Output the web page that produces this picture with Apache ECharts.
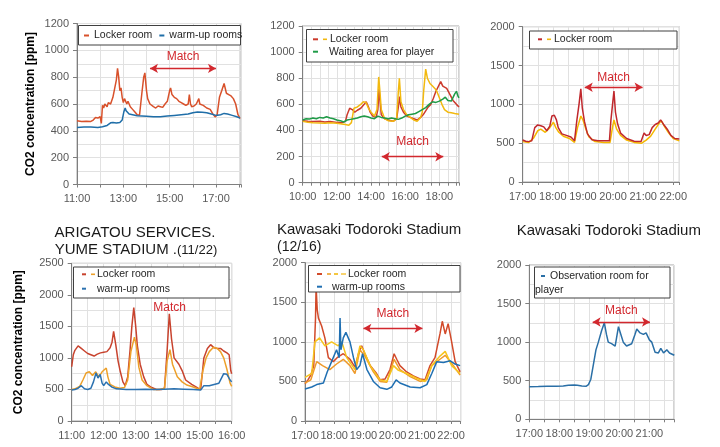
<!DOCTYPE html>
<html><head><meta charset="utf-8">
<script src="https://cdn.jsdelivr.net/npm/echarts/dist/echarts.min.js"></script>
<style>html,body{margin:0;padding:0;background:#fff}#c{width:720px;height:447px}</style>
</head><body><div id="c"></div>
<script>
// ---------- DATA (time in hours, CO2 in ppm) ----------
const p1Ticks = ['11:00','13:00','15:00','17:00'];
const p2Ticks = ['10:00','12:00','14:00','16:00','18:00'];
const p3Ticks = ['17:00','18:00','19:00','20:00','21:00','22:00'];
const p4Ticks = ['11:00','12:00','13:00','14:00','15:00','16:00'];
const p5Ticks = ['17:00','18:00','19:00','20:00','21:00','22:00'];
const p6Ticks = ['17:00','18:00','19:00','20:00','21:00'];

const p1Locker = [[11.0,475],[11.2,470],[11.4,472],[11.6,470],[11.7,480],[11.8,500],[11.9,495],[12.0,505],[12.05,455],[12.1,590],[12.15,570],[12.2,600],[12.3,580],[12.35,610],[12.45,600],[12.55,650],[12.62,640],[12.7,780],[12.75,865],[12.8,800],[12.85,700],[12.9,720],[12.95,650],[13.0,610],[13.05,640],[13.15,600],[13.2,620],[13.3,580],[13.4,560],[13.5,540],[13.6,520],[13.7,516],[13.75,600],[13.8,680],[13.88,800],[13.93,832],[14.0,700],[14.05,640],[14.15,600],[14.3,580],[14.4,570],[14.5,585],[14.6,580],[14.7,575],[14.8,600],[14.9,620],[15.0,700],[15.04,720],[15.1,670],[15.2,650],[15.3,640],[15.4,620],[15.5,610],[15.6,600],[15.7,590],[15.8,600],[15.85,670],[15.9,600],[15.95,580],[16.05,585],[16.15,600],[16.26,640],[16.3,600],[16.45,590],[16.6,570],[16.75,560],[16.85,530],[16.96,504],[17.05,520],[17.15,650],[17.25,700],[17.35,753],[17.45,680],[17.55,670],[17.65,660],[17.75,640],[17.85,600],[17.95,520],[18.04,492]];
const p1Warmup = [[11.0,425],[11.3,428],[11.6,428],[11.9,425],[12.1,430],[12.3,440],[12.45,460],[12.55,462],[12.7,458],[12.85,462],[12.95,480],[13.02,540],[13.08,570],[13.12,550],[13.18,545],[13.25,525],[13.4,520],[13.6,512],[13.8,510],[14.0,508],[14.3,505],[14.6,505],[14.9,510],[15.2,515],[15.5,520],[15.8,525],[16.0,535],[16.2,540],[16.4,538],[16.6,535],[16.8,525],[17.0,515],[17.2,520],[17.35,530],[17.5,525],[17.7,515],[17.9,505],[18.04,495]];

const p2LockerA = [[10.0,475],[10.3,470],[10.6,468],[11.0,470],[11.3,465],[11.6,468],[12.0,462],[12.3,460],[12.5,470],[12.6,520],[12.75,570],[12.9,560],[13.05,540],[13.2,555],[13.4,570],[13.6,600],[13.72,620],[13.85,580],[13.95,540],[14.1,510],[14.3,500],[14.4,560],[14.47,720],[14.52,640],[14.6,520],[14.8,490],[15.0,480],[15.3,470],[15.5,490],[15.62,600],[15.67,660],[15.75,580],[15.9,540],[16.1,510],[16.3,500],[16.5,490],[16.7,480],[16.9,500],[17.05,520],[17.2,550],[17.35,580],[17.5,600],[17.65,647],[17.8,700],[17.95,740],[18.08,774],[18.2,740],[18.3,730],[18.43,723],[18.6,680],[18.8,630],[19.0,600],[19.15,580]];
const p2LockerB = [[10.0,470],[10.3,462],[10.6,460],[11.0,458],[11.3,455],[11.6,460],[12.0,455],[12.3,450],[12.5,445],[12.7,440],[12.85,460],[13.0,570],[13.2,580],[13.4,600],[13.55,620],[13.7,615],[13.85,570],[14.0,540],[14.2,510],[14.35,560],[14.45,810],[14.52,700],[14.6,560],[14.8,490],[15.0,475],[15.3,470],[15.5,490],[15.6,700],[15.66,800],[15.75,620],[15.9,560],[16.1,520],[16.3,500],[16.5,480],[16.7,470],[16.9,500],[17.0,540],[17.08,700],[17.2,870],[17.3,800],[17.45,760],[17.6,740],[17.75,720],[17.85,700],[18.0,650],[18.15,600],[18.3,560],[18.5,540],[18.7,535],[18.9,530],[19.15,525]];
const p2Waiting = [[10.0,480],[10.2,490],[10.4,488],[10.6,495],[10.8,490],[11.0,500],[11.2,495],[11.4,505],[11.6,495],[11.8,490],[12.0,480],[12.2,475],[12.4,465],[12.6,480],[12.8,485],[13.0,490],[13.2,495],[13.4,505],[13.6,510],[13.8,505],[14.0,495],[14.2,490],[14.4,510],[14.6,500],[14.8,495],[15.0,490],[15.2,495],[15.4,490],[15.6,485],[15.8,495],[16.0,510],[16.2,520],[16.4,525],[16.6,530],[16.8,545],[17.0,560],[17.2,575],[17.4,600],[17.6,620],[17.8,615],[18.0,625],[18.2,640],[18.35,655],[18.5,630],[18.7,625],[18.9,680],[19.0,700],[19.1,660],[19.15,650]];

const p3LockerA = [[17.0,540],[17.1,525],[17.2,520],[17.3,530],[17.4,700],[17.5,735],[17.6,725],[17.7,710],[17.8,660],[17.9,720],[17.97,850],[18.05,860],[18.12,800],[18.18,700],[18.3,620],[18.45,600],[18.6,580],[18.72,530],[18.8,800],[18.87,1000],[18.93,1200],[18.98,950],[19.05,780],[19.15,620],[19.3,545],[19.5,530],[19.7,530],[19.88,530],[19.93,800],[20.0,1060],[20.03,1170],[20.08,900],[20.15,750],[20.25,630],[20.45,560],[20.7,525],[20.93,520],[21.03,630],[21.1,600],[21.2,610],[21.3,700],[21.4,740],[21.5,760],[21.58,800],[21.7,730],[21.8,680],[21.92,600],[22.05,560],[22.2,555]];
const p3LockerB = [[17.0,520],[17.2,510],[17.35,560],[17.5,660],[17.6,680],[17.75,640],[17.9,700],[18.02,770],[18.1,700],[18.2,640],[18.35,590],[18.55,560],[18.72,510],[18.82,700],[18.93,850],[19.0,800],[19.1,680],[19.2,580],[19.4,520],[19.7,510],[19.9,510],[19.98,700],[20.03,800],[20.12,680],[20.25,600],[20.45,540],[20.7,510],[20.95,500],[21.1,540],[21.25,590],[21.4,680],[21.5,740],[21.6,790],[21.7,720],[21.85,630],[22.0,560],[22.2,530]];

const p4LockerA = [[11.0,860],[11.05,1050],[11.1,1120],[11.2,1190],[11.3,1150],[11.4,1110],[11.5,1070],[11.6,1050],[11.7,1030],[11.8,1060],[11.9,1080],[12.0,1090],[12.1,1100],[12.2,1160],[12.26,1250],[12.31,1420],[12.38,1200],[12.45,950],[12.52,780],[12.6,620],[12.67,560],[12.75,700],[12.82,1100],[12.88,1500],[12.94,1800],[13.0,1500],[13.05,1200],[13.14,900],[13.25,700],[13.35,580],[13.5,530],[13.65,500],[13.8,500],[13.9,520],[13.98,1100],[14.05,1700],[14.12,1300],[14.2,1000],[14.35,900],[14.45,800],[14.56,650],[14.75,580],[14.95,520],[15.03,500],[15.13,1000],[15.24,1150],[15.34,1210],[15.45,1160],[15.55,1150],[15.65,1150],[15.75,1110],[15.85,1080],[15.92,1050],[15.97,800],[16.0,750]];
const p4LockerB = [[11.0,500],[11.1,510],[11.25,550],[11.35,650],[11.45,760],[11.55,780],[11.65,720],[11.75,780],[11.85,700],[11.95,780],[12.08,840],[12.13,700],[12.2,580],[12.35,540],[12.5,520],[12.65,530],[12.75,650],[12.85,1100],[12.96,1330],[13.02,1200],[13.1,850],[13.2,650],[13.35,560],[13.55,500],[13.75,500],[13.9,520],[13.98,950],[14.07,1130],[14.15,900],[14.3,700],[14.45,620],[14.6,570],[14.8,540],[15.0,500],[15.1,800],[15.2,1000],[15.3,1100],[15.43,1170],[15.55,1150],[15.65,1100],[15.75,1000],[15.85,820],[15.95,600],[16.0,550]];
const p4Warmup = [[11.0,490],[11.1,500],[11.2,520],[11.3,560],[11.4,510],[11.5,500],[11.6,520],[11.68,620],[11.76,760],[11.82,680],[11.89,740],[11.95,600],[12.0,560],[12.08,620],[12.15,580],[12.25,540],[12.4,510],[12.7,500],[13.0,500],[13.3,505],[13.6,500],[13.9,505],[14.2,510],[14.5,505],[14.8,500],[15.03,490],[15.13,560],[15.3,560],[15.45,580],[15.6,600],[15.7,700],[15.75,750],[15.85,740],[15.95,650],[16.0,620]];

const p5LockerA = [[17.0,470],[17.1,520],[17.2,580],[17.3,700],[17.36,1300],[17.38,1700],[17.42,1400],[17.46,1300],[17.57,1200],[17.68,1050],[17.8,800],[17.97,750],[18.1,800],[18.31,850],[18.54,780],[18.71,680],[18.83,850],[18.94,950],[19.05,850],[19.23,700],[19.45,600],[19.57,520],[19.74,530],[19.91,650],[20.05,850],[20.14,780],[20.25,700],[20.48,620],[20.71,570],[20.94,530],[21.11,520],[21.28,700],[21.45,800],[21.62,1100],[21.7,1260],[21.8,1100],[21.9,1230],[22.02,1000],[22.14,750],[22.31,620]];
const p5LockerB = [[17.0,480],[17.2,520],[17.4,750],[17.6,700],[17.85,650],[18.08,720],[18.31,780],[18.54,700],[18.71,600],[18.88,900],[19.05,820],[19.34,620],[19.57,500],[19.8,490],[20.05,780],[20.25,650],[20.6,560],[20.94,500],[21.17,520],[21.34,700],[21.62,780],[21.8,830],[22.08,700],[22.31,580]];
const p5LockerC = [[17.0,550],[17.23,600],[17.34,1000],[17.5,1050],[17.68,950],[17.91,1000],[18.14,950],[18.26,1000],[18.43,800],[18.71,650],[18.88,950],[19.0,900],[19.23,700],[19.57,520],[19.8,500],[20.03,700],[20.2,640],[20.48,600],[20.82,540],[21.11,500],[21.34,700],[21.62,820],[21.8,880],[22.02,700],[22.31,600]];
const p5Warmup = [[17.0,404],[17.23,430],[17.4,460],[17.63,480],[17.76,620],[17.91,750],[18.08,900],[18.17,800],[18.2,1300],[18.23,900],[18.31,1050],[18.4,1120],[18.54,1000],[18.66,800],[18.77,650],[18.88,700],[18.97,850],[19.12,650],[19.34,500],[19.57,420],[19.8,400],[19.97,430],[20.12,520],[20.25,480],[20.6,430],[20.94,420],[21.17,460],[21.34,600],[21.51,750],[21.74,740],[21.97,760],[22.14,720],[22.31,700]];

const p6Observation = [[17.0,423],[17.3,425],[17.6,428],[17.9,430],[18.13,432],[18.3,440],[18.5,445],[18.6,440],[18.75,432],[18.9,430],[18.97,450],[19.05,520],[19.13,700],[19.22,900],[19.3,1000],[19.41,1150],[19.5,1250],[19.57,1100],[19.63,1000],[19.74,980],[19.86,950],[19.97,1200],[20.05,1100],[20.13,1000],[20.24,950],[20.41,980],[20.52,1100],[20.58,1170],[20.69,1120],[20.8,1100],[20.89,1120],[21.0,1030],[21.08,1000],[21.19,870],[21.3,860],[21.38,920],[21.47,860],[21.58,900],[21.67,860],[21.83,830]];

// Match annotations: [start hour, end hour, ppm level]
const match1 = [14.15, 17.0, 865];
const match2 = [14.63, 18.23, 199];
const match3 = [19.06, 20.98, 1220];
const match4 = [14.06, 1796];
const match5 = [19.0, 21.02, 1171];
const match6 = [19.11, 21.02, 1261];

// ---------- CHART ----------
const FONT = '"Liberation Sans", Arial, sans-serif';
const RED = '#d2282e';
const LABEL = {
  p1_locker: 'Locker room', p1_warm: 'warm-up rooms',
  p2_locker: '{y| }{s3| }Locker room', p2_wait: '{s6| }Waiting area for player',
  p3_locker: '{y| }{s3| }Locker room',
  p4_locker: '{o| }{s2| }Locker room', p4_warm: '{s6| }warm-up rooms',
  p5_locker: '{o| }{s3| }{y| }{s3| }{y2| }{s2| }Locker room', p5_warm: '{s5| }warm-up rooms',
  p6_obs: 'Observation room for'
};
const rich = {
  y: {backgroundColor: '#f2b90f', width: 4, height: 1.6, fontSize: 2},
  y2: {backgroundColor: '#f7c84a', width: 5, height: 1.6, fontSize: 2},
  o: {backgroundColor: '#eda02a', width: 4, height: 1.6, fontSize: 2},
  s2: {width: 2, fontSize: 2}, s3: {width: 3, fontSize: 2}, s5: {width: 5, fontSize: 2}, s6: {width: 6, fontSize: 2}
};
function fmt(v){ if (Math.abs(v - Math.round(v)) > 1e-6) return ''; return Math.round(v) + ':00'; }

const grids = [
  {left: 77, top: 23.5, width: 164, height: 161},
  {left: 302.7, top: 26, width: 156.3, height: 156.7},
  {left: 522.7, top: 26.7, width: 156.6, height: 155.3},
  {left: 71.7, top: 263.3, width: 160, height: 157.7},
  {left: 305, top: 262.7, width: 155.7, height: 158.3},
  {left: 529.3, top: 265, width: 144.7, height: 154.3}
].map(g => Object.assign(g, {show: true, borderColor: '#a6a6a6', borderWidth: 1, backgroundColor: 'transparent', outerBoundsMode: 'none'}));

function xAx(i, min, max, interval, ticks){
  return {type: 'value', gridIndex: i, min, max, interval,
    axisLine: {show: true, onZero: false, lineStyle: {color: '#7f7f7f'}},
    axisTick: {show: true, length: 3, lineStyle: {color: '#7f7f7f'}},
    axisLabel: {color: '#595959', fontSize: 11, fontFamily: FONT, margin: 9, showMinLabel: true, showMaxLabel: true,
      formatter: v => { const s = fmt(v); return ticks.includes(s) ? s : ''; }},
    splitLine: {show: true, lineStyle: {color: '#e1e1e1', width: 1}}};
}
function yAx(i, max, interval, named, gap){
  const a = {type: 'value', gridIndex: i, min: 0, max, interval,
    axisLine: {show: true, lineStyle: {color: '#7f7f7f'}},
    axisTick: {show: true, length: 4, lineStyle: {color: '#7f7f7f'}},
    axisLabel: {color: '#595959', fontSize: 11, fontFamily: FONT, margin: 8, formatter: v => String(v)},
    splitLine: {show: true, lineStyle: {color: '#e1e1e1'}},
    minorTick: {show: false, splitNumber: 2},
    minorSplitLine: {show: true, lineStyle: {color: '#e1e1e1'}}};
  if (named) Object.assign(a, {name: 'CO2 concentration [ppm]', nameLocation: 'middle', nameGap: gap,
    nameTextStyle: {fontWeight: 'bold', fontSize: 12, color: '#000', fontFamily: FONT}});
  return a;
}
function ln(name, data, color, i, extra){
  return Object.assign({type: 'line', name, data, xAxisIndex: i, yAxisIndex: i, showSymbol: false, symbol: 'none',
    lineStyle: {width: 1.5, color}, itemStyle: {color}, emphasis: {disabled: true}}, extra || {});
}
function arrow(m, dist){
  return {markLine: {silent: true, symbol: ['arrow', 'arrow'], symbolSize: [7, 8], animation: false,
    lineStyle: {color: RED, width: 1.3, type: 'solid'},
    label: {show: true, position: 'insideMiddleTop', formatter: 'Match', color: RED, fontSize: 12, fontFamily: FONT, distance: dist},
    emphasis: {disabled: true},
    data: [[{coord: [m[0], m[2]]}, {coord: [m[1], m[2]]}]]}};
}
function legend(left, top, names, orient, gap, iw){
  return {left, top, orient, data: names, padding: 0, itemGap: gap, itemWidth: iw, itemHeight: 2, icon: 'rect',
    selectedMode: false, z: 6,
    textStyle: {fontSize: 10.5, fontFamily: FONT, color: '#262626', lineHeight: 12, rich},
    formatter: n => LABEL[n]};
}
const box = (x, y, w, h) => ({type: 'rect', z: 5, shape: {x, y, width: w, height: h}, style: {fill: '#fff', stroke: '#404040', lineWidth: 1}});
const txt = (x, y, text, size, align, richT) => ({type: 'text', z: 5, x, y,
  style: {text, fontSize: size, fontFamily: FONT, fill: '#1a1a1a', align: align || 'left', verticalAlign: 'middle', rich: richT}});

const option = {
  animation: false,
  backgroundColor: '#fff',
  grid: grids,
  xAxis: [xAx(0, 11, 18.08, 1, p1Ticks), xAx(1, 10, 19.15, 0.5, p2Ticks), xAx(2, 17, 22.2, 0.5, p3Ticks),
          xAx(3, 11, 16, 0.5, p4Ticks), xAx(4, 17, 22.33, 0.5, p5Ticks), xAx(5, 17, 21.82, 0.5, p6Ticks)],
  yAxis: [yAx(0, 1200, 200, true, 40), yAx(1, 1200, 200), yAx(2, 2000, 500), yAx(3, 2500, 500, true, 47), yAx(4, 2000, 500), yAx(5, 2000, 500)],
  legend: [
    legend(84, 29.5, ['p1_locker', 'p1_warm'], 'horizontal', 7, 5),
    legend(313, 33.3, ['p2_locker', 'p2_wait'], 'vertical', 0.4, 5),
    legend(538, 33.3, ['p3_locker'], 'vertical', 0, 4),
    legend(82, 268.3, ['p4_locker', 'p4_warm'], 'vertical', 2.4, 4),
    legend(317, 268, ['p5_locker', 'p5_warm'], 'vertical', 0.7, 5),
    legend(541, 270, ['p6_obs'], 'vertical', 0, 4)
  ],
  graphic: [
    box(78.5, 25.5, 162, 19.5), box(306.5, 29.5, 146.5, 32.5), box(529.5, 31, 147.5, 18),
    box(73.5, 267, 155.5, 31), box(308.5, 265.5, 151.5, 26.5), box(534.5, 267, 135.5, 31),
    txt(535, 290.5, 'player', 10.5),
    txt(135, 232.7, 'ARIGATOU SERVICES.', 15, 'center'),
    txt(136, 250, '{a|YUME STADIUM .}{b|(11/22)}', 15, 'center', {a: {fontSize: 15, fontFamily: FONT, fill: '#1a1a1a'}, b: {fontSize: 13, fontFamily: FONT, fill: '#1a1a1a'}}),
    txt(277, 230, 'Kawasaki Todoroki Stadium', 15),
    txt(277, 247.3, '(12/16)', 14),
    txt(516.7, 230.7, 'Kawasaki Todoroki Stadium', 15)
  ],
  series: [
    ln('p1_locker', p1Locker, '#d8512b', 0, arrow(match1, 6)),
    ln('p1_warm', p1Warmup, '#1f6ea8', 0),
    ln('p2_locker', p2LockerA, '#cc3a2c', 1, arrow(match2, 9)),
    ln('p2_lockerB', p2LockerB, '#f2b90f', 1),
    ln('p2_wait', p2Waiting, '#1f9b48', 1),
    ln('p3_lockerB', p3LockerB, '#f5b800', 2),
    ln('p3_locker', p3LockerA, '#c0282d', 2, arrow(match3, 4)),
    ln('p4_locker', p4LockerA, '#c8432e', 3, {markPoint: {silent: true, animation: false,
      data: [{coord: [match4[0], match4[1]], symbol: 'circle', symbolSize: 1, itemStyle: {color: 'rgba(0,0,0,0)'},
        label: {show: true, position: 'inside', formatter: 'Match', color: RED, fontSize: 12, fontFamily: FONT}}]}}),
    ln('p4_lockerB', p4LockerB, '#eda02a', 3),
    ln('p4_warm', p4Warmup, '#2c72b0', 3),
    ln('p5_locker', p5LockerA, '#d24a2a', 4, arrow(match5, 9)),
    ln('p5_lockerB', p5LockerB, '#ee9a2a', 4),
    ln('p5_lockerC', p5LockerC, '#f6c41e', 4),
    ln('p5_warm', p5Warmup, '#1f6fb2', 4),
    ln('p6_obs', p6Observation, '#2a6fa6', 5, arrow(match6, 5))
  ]
};
const chart = echarts.init(document.getElementById('c'), null, {renderer: 'canvas'});
chart.setOption(option);
</script></body></html>
